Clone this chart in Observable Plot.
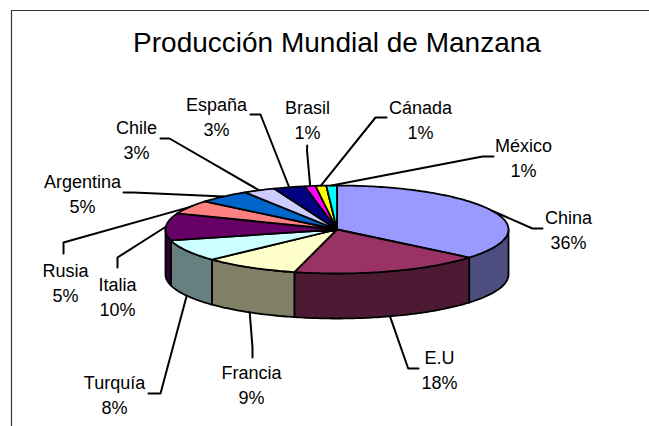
<!DOCTYPE html>
<html>
<head>
<meta charset="utf-8">
<script src="https://cdn.jsdelivr.net/npm/d3@7"></script>
<script src="https://cdn.jsdelivr.net/npm/@observablehq/plot@0.6"></script>
<style>
  html, body { margin: 0; padding: 0; background: #fff; }
  #chart svg { display: block; }
</style>
</head>
<body>
<div id="chart"></div>
<script>
// ---- data ----
const title = "Producción Mundial de Manzana";
const countries = ["China", "E.U", "Francia", "Turquía", "Italia", "Rusia", "Argentina", "Chile", "España", "Brasil", "Cánada", "México"];
const shares = [36, 18, 9, 8, 10, 5, 5, 3, 3, 1, 1, 1];
const topColors = ["#9999FF", "#993366", "#FFFFCC", "#CCFFFF", "#660066", "#FF8080", "#0066CC", "#CCCCFF", "#000080", "#FF00FF", "#FFFF00", "#00FFFF"];

// ---- layout (pixels) ----
const pie = {cx: 336.5, cy: 229, rx: 171.5, ry: 44, depth: 45};
const labelPos = [[568, 227.5], [439, 367.5], [251, 382.5], [114, 392.5], [117, 294.5], [65, 280.5], [82, 192], [136, 137.5], [216, 115], [307, 117.5], [420, 118], [523, 156]];
const leaderKnee = [[532, 228], [407.7, 368], [252, 347], [160, 393], [117, 257], [63, 242], [133, 192], [169, 138], [260, 114], [306.5, 150], [375, 117], [482, 156]];
const leaderEnd = [[542, 228], [418, 368], [252, 357], [148, 393], [117, 267], [63, 253], [123, 192], [160, 138], [250, 114], [306.7, 145], [386, 117], [493, 156]];

const total = d3.sum(shares);
const TAU = 2 * Math.PI;
const px = t => pie.cx + pie.rx * Math.sin(t);
const py = t => pie.cy - pie.ry * Math.cos(t);
const half = c => { const r = d3.rgb(c); return d3.rgb(r.r / 2, r.g / 2, r.b / 2).formatHex(); };

const tops = [], sides = [], leaders = [], labels = [];
let cum = 0;
shares.forEach((s, i) => {
  const a0 = cum / total * TAU;
  cum += s;
  const a1 = cum / total * TAU;
  const n = Math.max(2, Math.ceil((a1 - a0) / (Math.PI / 180)));
  // top face
  tops.push({id: i, x: pie.cx, y: pie.cy, fill: topColors[i]});
  for (let k = 0; k <= n; k++) {
    const t = a0 + (a1 - a0) * k / n;
    tops.push({id: i, x: px(t), y: py(t), fill: topColors[i]});
  }
  tops.push({id: i, x: pie.cx, y: pie.cy, fill: topColors[i]});
  // side wall (front half only)
  const b0 = Math.max(a0, Math.PI / 2), b1 = Math.min(a1, 1.5 * Math.PI);
  if (b1 > b0) {
    const m = Math.max(2, Math.ceil((b1 - b0) / (Math.PI / 180)));
    const pts = [];
    for (let k = 0; k <= m; k++) { const t = b0 + (b1 - b0) * k / m; pts.push([px(t), py(t)]); }
    for (let k = m; k >= 0; k--) { const t = b0 + (b1 - b0) * k / m; pts.push([px(t), py(t) + pie.depth]); }
    pts.push(pts[0]);
    pts.forEach(([x, y]) => sides.push({id: i, x, y, fill: half(topColors[i])}));
  }
  // leader line
  const mid = (a0 + a1) / 2;
  const front = mid > Math.PI / 2 && mid < 1.5 * Math.PI;
  leaders.push({id: i, x: px(mid), y: py(mid) + (front ? pie.depth : 0)});
  leaders.push({id: i, x: leaderKnee[i][0], y: leaderKnee[i][1]});
  leaders.push({id: i, x: leaderEnd[i][0], y: leaderEnd[i][1]});
  labels.push({x: labelPos[i][0], y: labelPos[i][1], text: `${countries[i]}\n${s}%`});
});

const chart = Plot.plot({
  width: 649,
  height: 426,
  margin: 0,
  x: {domain: [0, 649], range: [0, 649], axis: null},
  y: {domain: [0, 426], range: [0, 426], axis: null},
  color: {type: "identity"},
  style: {fontFamily: "'Liberation Sans', Arial, sans-serif", background: "#fff", color: "#000"},
  marks: [
    Plot.ruleX([11], {y1: 10, y2: 426, stroke: "#333", strokeWidth: 1.2}),
    Plot.ruleY([10], {x1: 11, x2: 649, stroke: "#333", strokeWidth: 1.2}),
    Plot.text([title], {x: () => pie.cx, y: () => 43, text: d => d, fontSize: 28, fill: "#000"}),
    Plot.line(sides, {x: "x", y: "y", z: "id", fill: "fill", stroke: "#000", strokeWidth: 1.8, strokeLinejoin: "round"}),
    Plot.line(tops, {x: "x", y: "y", z: "id", fill: "fill", stroke: "#000", strokeWidth: 1.8, strokeLinejoin: "round"}),
    Plot.line(leaders, {x: "x", y: "y", z: "id", stroke: "#000", strokeWidth: 2}),
    Plot.text(labels, {x: "x", y: "y", text: "text", fontSize: 18, lineHeight: 1.39, fill: "#000"})
  ]
});
document.getElementById("chart").appendChild(chart);
</script>
</body>
</html>
